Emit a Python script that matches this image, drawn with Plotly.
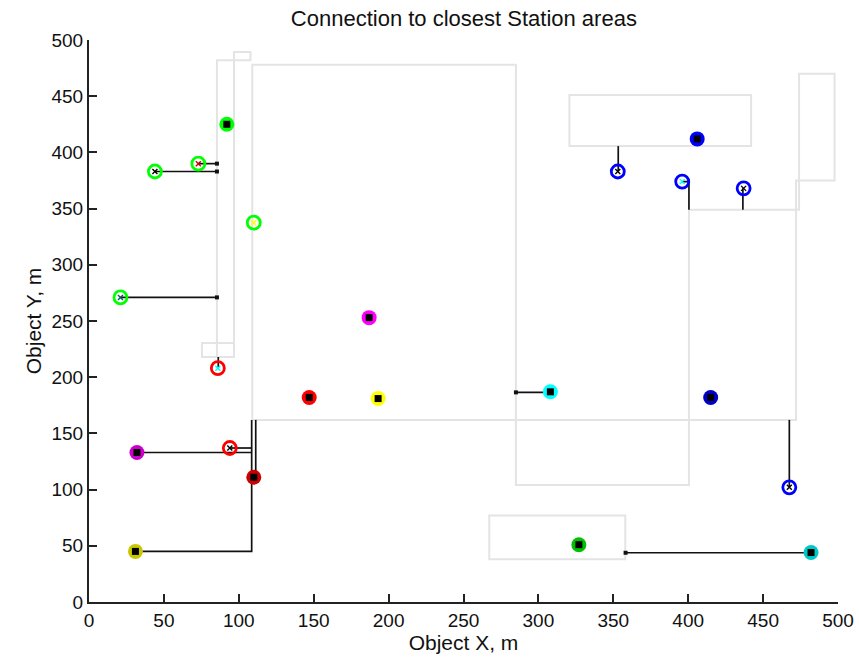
import plotly.graph_objects as go

# ---- station area rectangles (x0, x1, y0, y1) ----
rect_x0 = [109, 285, 400.5, 472, 474, 320.7, 267.2, 85.4, 75.4, 96.8]
rect_x1 = [285, 400.5, 472, 474, 497.7, 442, 358, 96.8, 96.8, 107.8]
rect_y0 = [162, 104, 162, 349, 375, 405.6, 38, 218, 218, 482]
rect_y1 = [478, 162, 349, 375, 470, 451, 77, 482, 230.4, 489.3]

# ---- stations (filled) ----
station_x = [92, 187, 147, 193, 308, 415, 406, 327, 482, 32, 110, 31]
station_y = [425, 253, 182, 181, 187, 182, 412, 51, 44, 133, 111, 45]
station_color = ["#00ff00", "#ff00ff", "#ff0000", "#ffff00", "#00ffff", "#0000cc",
                 "#0000ff", "#00c000", "#00c8c8", "#cc00cc", "#cc0000", "#c8c800"]

# ---- objects (open circles) ----
object_x = [44, 73, 110, 21, 86, 94, 353, 396, 437, 467.5]
object_y = [383, 390, 337.5, 271, 208, 137, 383, 374, 368, 102]
object_color = ["#00ff00", "#00ff00", "#00ff00", "#00ff00", "#ff0000", "#ff0000",
                "#0000ff", "#0000ff", "#0000ff", "#0000ff"]
object_inner = ["#000000", "#cc0000", "#ffff00", "#006060", "#00ffff", "#000000",
                "#000000", "#00ffff", "#000000", "#000000"]

# ---- connection lines ----
conn_x = [[44, 85.4], [73, 85.4], [21, 85.4], [86.3, 86.3], [94, 108.6], [32, 108.6],
          [31, 108.6, 108.6], [111.3, 111.3], [308, 285], [467.5, 467.5],
          [482, 358.2], [353.3, 353.3], [396, 400.5, 400.5], [436.5, 436.5]]
conn_y = [[383, 383], [390, 390], [271, 271], [208, 218], [137, 137], [133, 133],
          [45, 45, 162], [111, 162], [186.5, 186.5], [102, 162],
          [43.8, 43.8], [383, 405.6], [374, 374, 349], [368, 349]]
conn_dot = [True, True, True, False, False, False, False, False, True, False,
            True, False, False, False]

x_ticks = [0, 50, 100, 150, 200, 250, 300, 350, 400, 450, 500]
y_ticks = [0, 50, 100, 150, 200, 250, 300, 350, 400, 450, 500]

fig = go.Figure()

shapes = []
for x0, x1, y0, y1 in zip(rect_x0, rect_x1, rect_y0, rect_y1):
    shapes.append(dict(type="rect", xref="x", yref="y", x0=x0, x1=x1, y0=y0, y1=y1,
                       line=dict(color="#e4e4e4", width=2), fillcolor="rgba(0,0,0,0)",
                       layer="below"))

for xs, ys, dot in zip(conn_x, conn_y, conn_dot):
    fig.add_trace(go.Scatter(x=xs, y=ys, mode="lines",
                             line=dict(color="#111111", width=1.7),
                             hoverinfo="skip", showlegend=False))
    if dot:
        fig.add_trace(go.Scatter(x=[xs[-1]], y=[ys[-1]], mode="markers",
                                 marker=dict(color="#111111", size=4, symbol="square"),
                                 hoverinfo="skip", showlegend=False))

fig.add_trace(go.Scatter(x=object_x, y=object_y, mode="markers",
                         marker=dict(symbol="circle-open", size=13, color=object_color,
                                     line=dict(width=2.8, color=object_color)),
                         showlegend=False))
fig.add_trace(go.Scatter(x=object_x, y=object_y, mode="markers",
                         marker=dict(symbol="x-thin-open", size=5, color=object_inner,
                                     line=dict(width=1.4, color=object_inner)),
                         showlegend=False))

fig.add_trace(go.Scatter(x=station_x, y=station_y, mode="markers",
                         marker=dict(symbol="circle", size=15, color=station_color,
                                     line=dict(width=0)),
                         showlegend=False))
fig.add_trace(go.Scatter(x=station_x, y=station_y, mode="markers",
                         marker=dict(symbol="square", size=7, color="#000000",
                                     line=dict(width=0)),
                         showlegend=False))

font_family = "Liberation Sans, Arial, sans-serif"
fig.update_layout(
    width=859, height=664,
    margin=dict(l=89, r=21, t=40, b=62, autoexpand=False),
    paper_bgcolor="white", plot_bgcolor="white",
    shapes=shapes,
    title=dict(text="Connection to closest Station areas", x=0.54, xanchor="center",
               y=0.972, yanchor="middle",
               font=dict(family=font_family, size=22, color="#111111")),
    font=dict(family=font_family, size=19, color="#111111"),
    xaxis=dict(range=[0, 500], tickvals=x_ticks, ticktext=[str(v) for v in x_ticks],
               showgrid=False, zeroline=False, showline=True, linecolor="#222222",
               linewidth=2, ticks="inside", ticklen=8, tickwidth=1.5, tickcolor="#222222",
               mirror=False, tickfont=dict(size=19), automargin=False,
               title=dict(text="Object X, m", standoff=2,
                          font=dict(family=font_family, size=21))),
    yaxis=dict(range=[0, 500], tickvals=y_ticks, ticktext=[str(v) for v in y_ticks],
               showgrid=False, zeroline=False, showline=True, linecolor="#222222",
               linewidth=2, ticks="inside", ticklen=8, tickwidth=1.5, tickcolor="#222222",
               mirror=False, tickfont=dict(size=19), automargin=False,
               title=dict(text="Object Y, m", standoff=4,
                          font=dict(family=font_family, size=21))),
)

fig.write_html("out.html")
